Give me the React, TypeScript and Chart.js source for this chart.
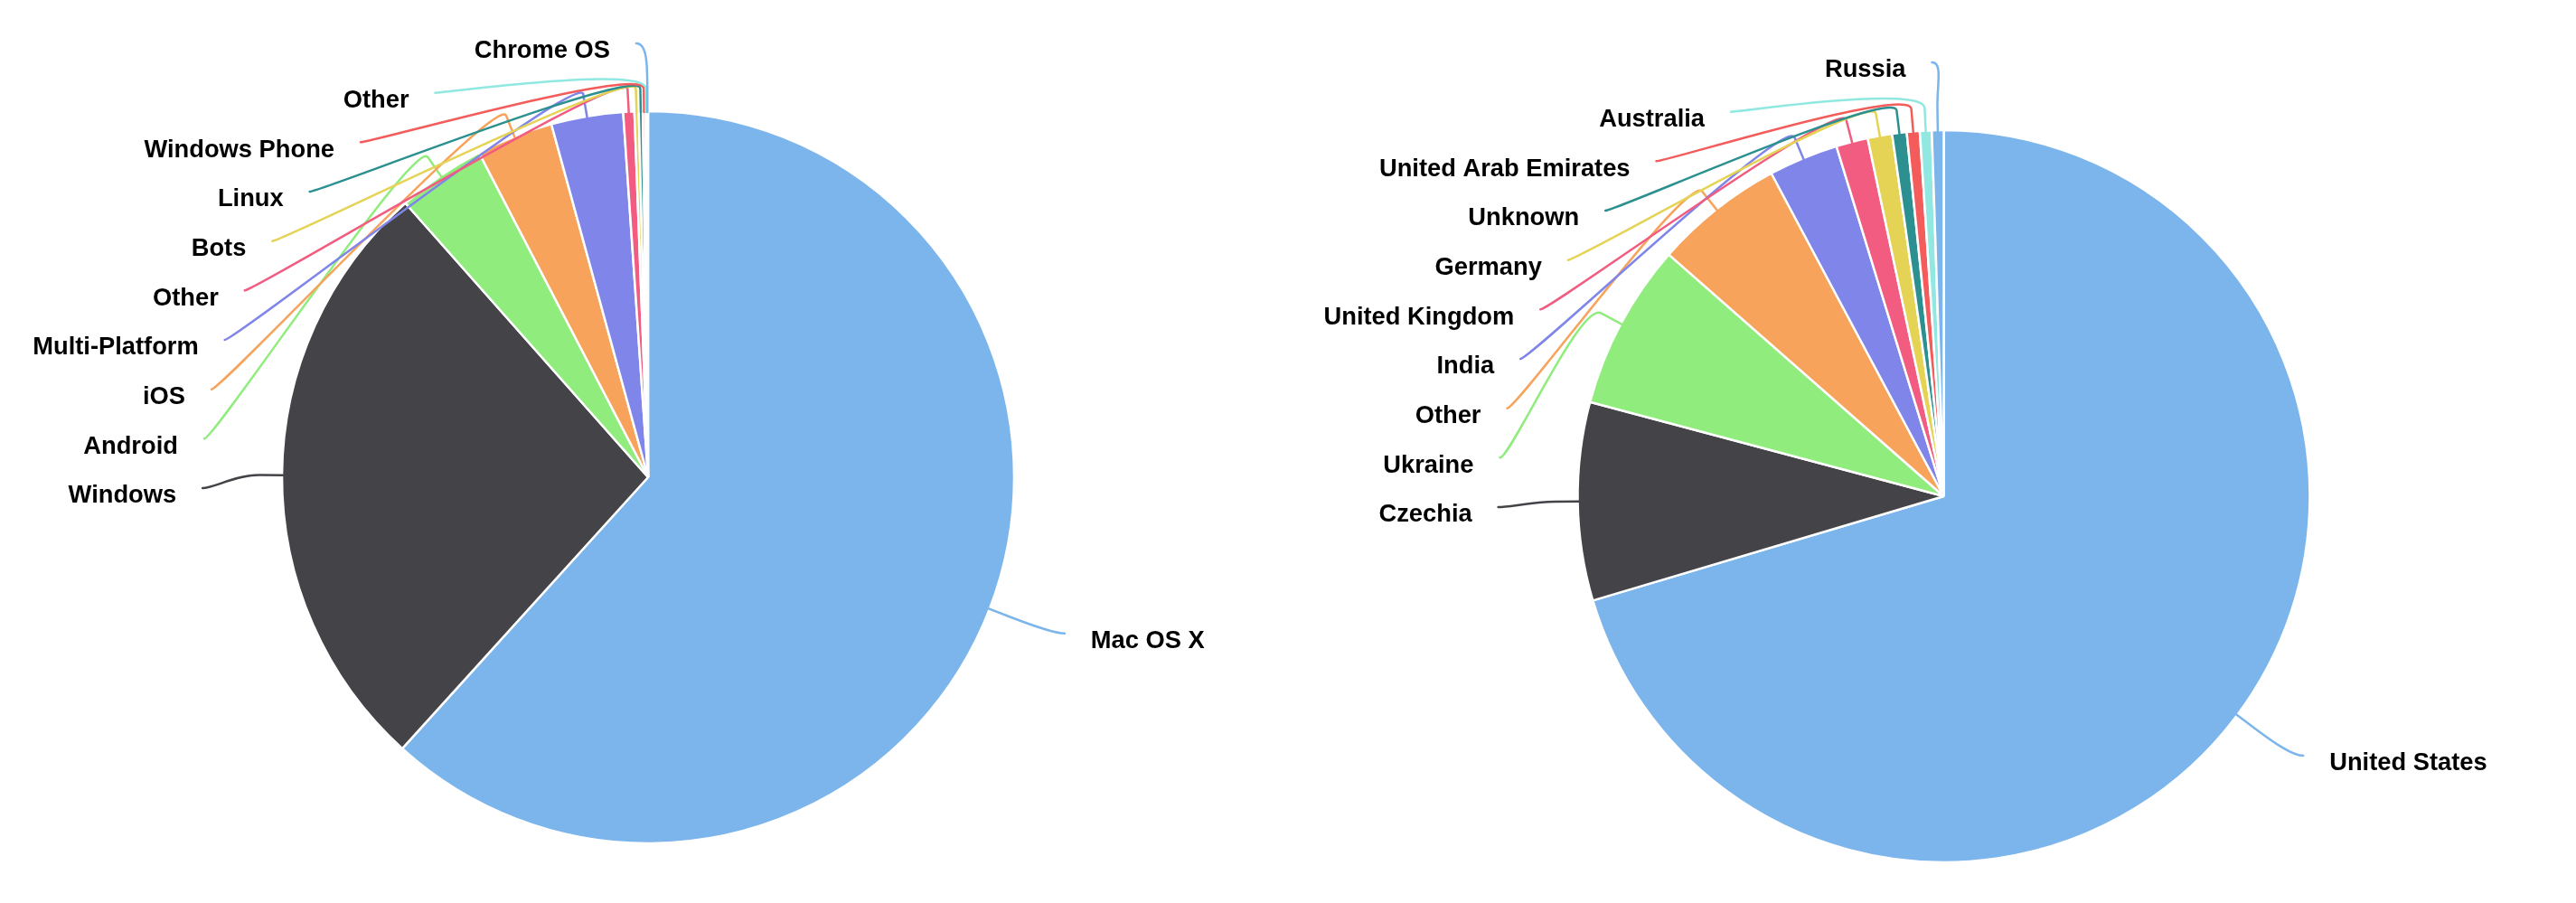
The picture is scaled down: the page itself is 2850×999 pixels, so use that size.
import React, { useEffect, useRef } from "react";
import { Chart, registerables } from "chart.js";

Chart.register(...registerables);

// ---- Data ----
const osLabels = [
  "Mac OS X",
  "Windows",
  "Android",
  "iOS",
  "Multi-Platform",
  "Other",
  "Bots",
  "Linux",
  "Windows Phone",
  "Other",
  "Chrome OS",
];
const osValues = [61.72, 26.75, 3.89, 3.39, 3.17, 0.49, 0.19, 0.175, 0.11, 0.06, 0.06];

const countryLabels = [
  "United States",
  "Czechia",
  "Ukraine",
  "Other",
  "India",
  "United Kingdom",
  "Germany",
  "Unknown",
  "United Arab Emirates",
  "Australia",
  "Russia",
];
const countryValues = [70.4, 8.74, 7.33, 5.72, 3.07, 1.4, 1.08, 0.64, 0.57, 0.525, 0.52];

const palette = [
  "#7cb5ec",
  "#434348",
  "#90ed7d",
  "#f7a35c",
  "#8085e9",
  "#f15c80",
  "#e4d354",
  "#2b908f",
  "#f45b5b",
  "#91e8e1",
];

// ---- Label layout helpers ----
const PIE_R = 404;
const LABEL_R = PIE_R + 76;
const LABEL_PAD = 13;
const BREAK_D = 26;
const STEP = 54.67;
const TEXT_GAP = 29;

function distribute(group: any[], minY: number, maxY: number, step: number) {
  let boxes = group.map((it) => ({ items: [it], targets: [it.natural], pos: it.natural }));
  let overlapping = true;
  let guard = 0;
  while (overlapping && guard < 100) {
    guard++;
    for (const b of boxes) {
      const t = (Math.min(...b.targets) + Math.max(...b.targets)) / 2;
      const span = (b.items.length - 1) * step;
      b.pos = Math.min(Math.max(t - span / 2, minY), maxY - span);
    }
    overlapping = false;
    for (let k = boxes.length - 1; k > 0; k--) {
      const p = boxes[k - 1];
      const c = boxes[k];
      if (p.pos + p.items.length * step > c.pos) {
        p.items = p.items.concat(c.items);
        p.targets = p.targets.concat(c.targets);
        boxes.splice(k, 1);
        overlapping = true;
      }
    }
  }
  for (const b of boxes) b.items.forEach((it: any, j: number) => (it.y = b.pos + j * step));
}

const labelPlugin = {
  id: "pieOutsideLabels",
  afterDatasetsDraw(chart: any) {
    const ctx = chart.ctx;
    const meta = chart.getDatasetMeta(0);
    const labels = chart.data.labels;
    const colors = chart.data.datasets[0].backgroundColor;
    let cx = 0;
    let cy = 0;
    const items = meta.data.map((arc: any, i: number) => {
      const p = arc.getProps(["x", "y", "startAngle", "endAngle"], true);
      cx = p.x;
      cy = p.y;
      const a = (p.startAngle + p.endAngle) / 2;
      const cos = Math.cos(a);
      const sin = Math.sin(a);
      return {
        i,
        cos,
        sin,
        left: cos < 0,
        natural: p.y + LABEL_R * sin,
        label: labels[i],
        color: colors[i % colors.length],
        y: 0,
      };
    });

    for (const side of [true, false]) {
      const group = items.filter((it: any) => it.left === side).sort((p: any, q: any) => p.natural - q.natural);
      if (group.length) distribute(group, cy - LABEL_R, cy + LABEL_R, STEP);
    }

    ctx.save();
    // connectors
    items.forEach((it: any) => {
      const dir = it.left ? -1 : 1;
      const dy = it.y - cy;
      const dx = Math.sqrt(Math.max(LABEL_R * LABEL_R - dy * dy, 0));
      const Lx = cx + dir * (dx + LABEL_PAD);
      const Ly = it.y;
      const Ex = cx + PIE_R * it.cos;
      const Ey = cy + PIE_R * it.sin;
      const Bx = cx + (PIE_R + BREAK_D) * it.cos;
      const By = cy + (PIE_R + BREAK_D) * it.sin;
      it.Lx = Lx;
      it.Ly = Ly;
      ctx.beginPath();
      ctx.moveTo(Lx, Ly);
      ctx.bezierCurveTo(Lx - dir * 12, Ly, 2 * Bx - Ex, 2 * By - Ey, Bx, By);
      ctx.lineTo(Ex, Ey);
      ctx.strokeStyle = it.color;
      ctx.lineWidth = 2.5;
      ctx.lineJoin = "round";
      ctx.lineCap = "round";
      ctx.stroke();
    });
    // texts
    ctx.font = "bold 27.3px 'Liberation Sans', Arial, sans-serif";
    ctx.textBaseline = "alphabetic";
    items.forEach((it: any) => {
      const dir = it.left ? -1 : 1;
      const tx = it.Lx + dir * TEXT_GAP;
      const ty = it.Ly + 16.3;
      ctx.textAlign = it.left ? "right" : "left";
      ctx.lineWidth = 2.5;
      ctx.strokeStyle = "#ffffff";
      ctx.lineJoin = "round";
      ctx.strokeText(it.label, tx, ty);
      ctx.fillStyle = "#000000";
      ctx.fillText(it.label, tx, ty);
    });
    ctx.restore();
  },
};

function PieCanvas(props: { labels: string[]; values: number[]; padding: any; left: number }) {
  const ref = useRef<HTMLCanvasElement>(null);
  useEffect(() => {
    if (!ref.current) return;
    const chart = new Chart(ref.current, {
      type: "pie",
      data: {
        labels: props.labels,
        datasets: [
          {
            data: props.values,
            backgroundColor: props.labels.map((_, i) => palette[i % palette.length]),
            borderColor: "#ffffff",
            borderWidth: 2.5,
            radius: 405,
          } as any,
        ],
      },
      options: {
        responsive: false,
        animation: false,
        devicePixelRatio: 1,
        events: [],
        layout: { padding: props.padding },
        plugins: {
          legend: { display: false },
          tooltip: { enabled: false },
        },
      },
      plugins: [labelPlugin as any],
    });
    return () => chart.destroy();
  }, []);
  return (
    <canvas
      ref={ref}
      width={1425}
      height={999}
      style={{ position: "absolute", left: props.left, top: 0, width: 1425, height: 999 }}
    />
  );
}

export default function App() {
  return (
    <div
      style={{
        position: "absolute",
        left: 0,
        top: 0,
        width: 2850,
        height: 999,
        background: "#ffffff",
        overflow: "hidden",
      }}
    >
      <PieCanvas labels={osLabels} values={osValues} padding={{ left: 9, right: 0, top: 57, bottom: 0 }} left={0} />
      <PieCanvas
        labels={countryLabels}
        values={countryValues}
        padding={{ left: 26, right: 0, top: 99, bottom: 0 }}
        left={1425}
      />
    </div>
  );
}
